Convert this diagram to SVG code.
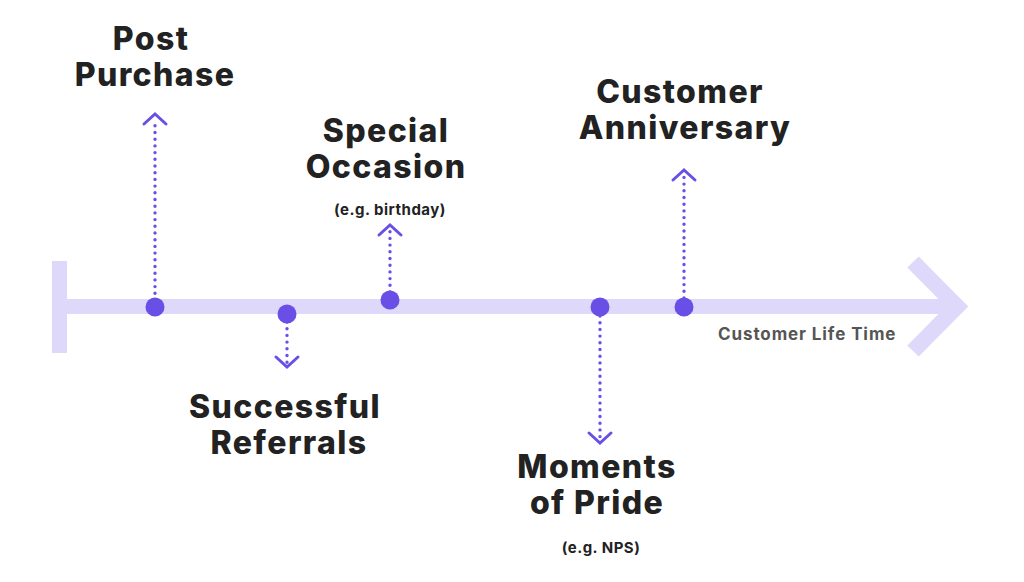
<svg xmlns="http://www.w3.org/2000/svg" width="1024" height="582" viewBox="0 0 1024 582">
<style>
.bar{fill:#ded8fb}
.arm{fill:none;stroke:#ded8fb;stroke-width:16;stroke-linecap:butt;stroke-linejoin:miter}
.dot{fill:#6a4fe6}
.dots{fill:none;stroke:#6a4fe6;stroke-width:3.4;stroke-linecap:round;stroke-dasharray:0 6.7}
.chev{fill:none;stroke:#6a4fe6;stroke-width:3;stroke-linecap:round;stroke-linejoin:miter}
.t{font-family:Inter,"Liberation Sans",sans-serif;font-weight:800;font-size:32px;fill:#222;text-anchor:middle;letter-spacing:1.4px}
.s{font-family:Inter,"Liberation Sans",sans-serif;font-weight:700;font-size:15px;fill:#222;text-anchor:middle;letter-spacing:0.5px}
.l{font-family:Inter,"Liberation Sans",sans-serif;font-weight:700;font-size:17px;fill:#555;letter-spacing:0.9px}
</style>
<rect fill="#fff" width="1024" height="582"/>
<g id="timeline">
<rect class="bar" x="52" y="261" width="15" height="92"/>
<rect class="bar" x="67" y="299" width="890" height="15"/>
<polyline class="arm" points="913,262 957,306.5 913,351"/>
</g>
<g id="connectors">
<line class="dots" x1="155" y1="300" x2="155" y2="120"/>
<polyline class="chev" points="144,124 155,114 166,124"/>
<line class="dots" x1="287" y1="322" x2="287" y2="364"/>
<polyline class="chev" points="276,357 287,367 298,357"/>
<line class="dots" x1="390" y1="292" x2="390" y2="228"/>
<polyline class="chev" points="379,235 390,225 401,235"/>
<line class="dots" x1="600" y1="316" x2="600" y2="440"/>
<polyline class="chev" points="589,433 600,443 611,433"/>
<line class="dots" x1="684" y1="298" x2="684" y2="174"/>
<polyline class="chev" points="673,180 684,170 695,180"/>
</g>
<g id="post-purchase">
<circle class="dot" cx="155" cy="307" r="9.5"/>
<text class="t" x="151" y="50">Post</text>
<text class="t" x="155" y="86">Purchase</text>
</g>
<g id="successful-referrals">
<circle class="dot" cx="287" cy="314" r="9.5"/>
<text class="t" x="285" y="418">Successful</text>
<text class="t" x="289" y="454">Referrals</text>
</g>
<g id="special-occasion">
<circle class="dot" cx="390" cy="300" r="9.5"/>
<text class="t" x="386" y="142">Special</text>
<text class="t" x="386" y="178">Occasion</text>
<text class="s" x="390" y="215">(e.g. birthday)</text>
</g>
<g id="moments-of-pride">
<circle class="dot" cx="600" cy="307" r="9.5"/>
<text class="t" x="597" y="478">Moments</text>
<text class="t" x="597" y="514">of Pride</text>
<text class="s" x="601" y="553">(e.g. NPS)</text>
</g>
<g id="customer-anniversary">
<circle class="dot" cx="684" cy="307" r="9.5"/>
<text class="t" x="680" y="103">Customer</text>
<text class="t" x="685" y="139">Anniversary</text>
</g>
<g id="life-time-label">
<text class="l" x="718" y="340">Customer Life Time</text>
</g>
</svg>
